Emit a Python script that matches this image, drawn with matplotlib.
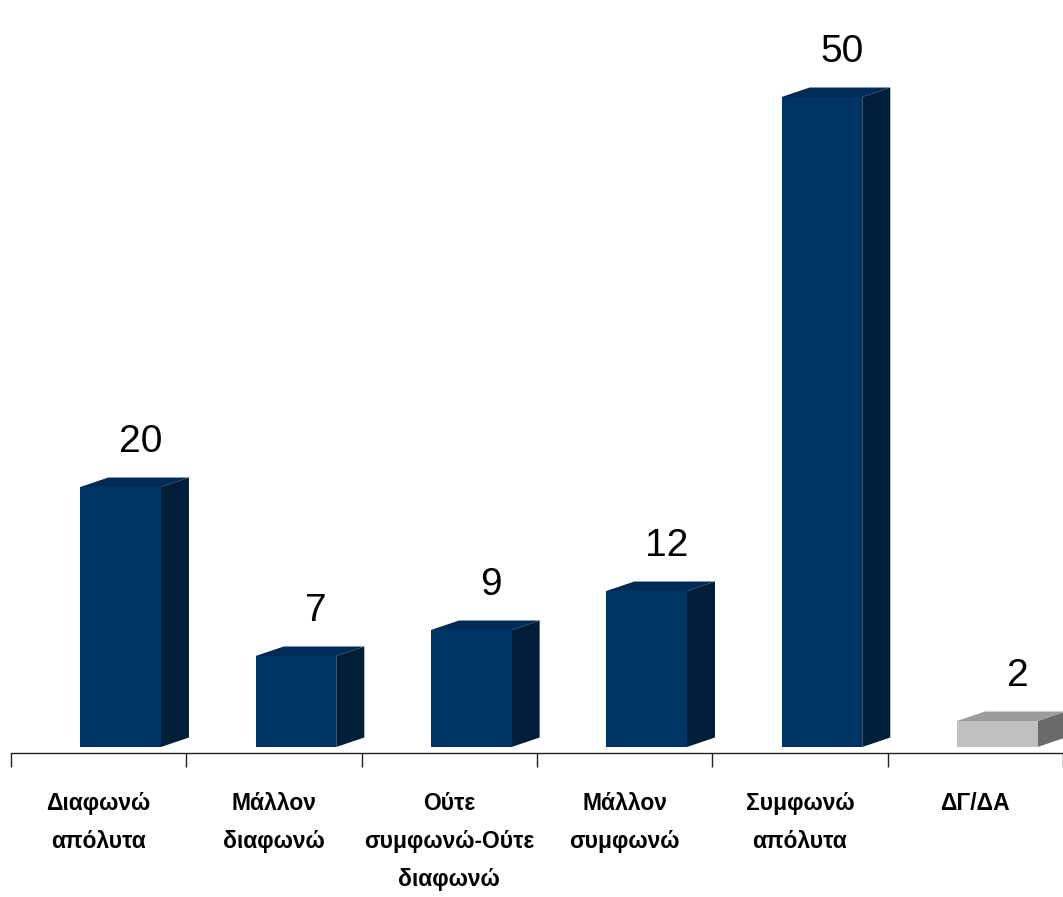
import numpy as np
import matplotlib
matplotlib.use('Agg')
import matplotlib.pyplot as plt
from matplotlib import font_manager

# chart data
categories = ['Διαφωνώ\nαπόλυτα', 'Μάλλον\nδιαφωνώ', 'Ούτε\nσυμφωνώ-Ούτε\nδιαφωνώ',
              'Μάλλον\nσυμφωνώ', 'Συμφωνώ\nαπόλυτα', 'ΔΓ/ΔΑ']
values = [20, 7, 9, 12, 50, 2]
is_dk = [False, False, False, False, False, True]

# colours: front, top, side
navy = ('#003366', '#002b57', '#001e38')
grey = ('#c0c0c0', '#9c9c9c', '#6a6a6a')

# narrow face for the numbers if it is there
names = {f.name for f in font_manager.fontManager.ttflist}
num_font = 'Liberation Sans Narrow' if 'Liberation Sans Narrow' in names else 'Liberation Sans'

fig = plt.figure(figsize=(10.63, 8.97), dpi=100)
ax = fig.add_axes([11/1063, 144/897, 1052/1063, 753/897])

x = np.arange(len(values))
width = 0.46
shift = 0.125      # front face sits right of category centre
dx, dy = 0.16, 0.73  # fake 3d depth

for xi, v, dk in zip(x, values, is_dk):
    front, top, side = grey if dk else navy
    l = xi + shift - width / 2
    r = xi + shift + width / 2
    ax.bar(xi + shift, v, width=width, color=front, zorder=3)
    # top face
    ax.fill([l, r, r + dx, l + dx], [v, v, v + dy, v + dy], color=top, zorder=3, lw=0)
    # side face
    ax.fill([r, r + dx, r + dx, r], [0, dy, v + dy, v], color=side, zorder=2, lw=0)
    # value label
    ax.text(xi + shift + 0.115, v + dy + 2.0, str(v), ha='center', va='baseline',
            fontsize=30 if num_font != 'Liberation Sans' else 28,
            family=num_font, color='black')

ax.set_xlim(-0.5, 5.5)
ax.set_ylim(-6/13, 747/13)

for s in ['top', 'right', 'left']:
    ax.spines[s].set_visible(False)
ax.spines['bottom'].set_color('#222222')
ax.spines['bottom'].set_linewidth(1.0)
ax.set_yticks([])
ax.set_xticks(np.arange(-0.5, 6, 1.0))
ax.set_xticklabels([])
ax.tick_params(axis='x', direction='out', length=10, width=1, color='#222222')

for xi, lab in zip(x, categories):
    ax.annotate(lab, xy=(xi, 0), xycoords=('data', 'axes fraction'),
                xytext=(0, -28), textcoords='offset points',
                ha='center', va='top', fontsize=16.5, fontweight='bold',
                family='Liberation Sans', linespacing=1.85, annotation_clip=False)

fig.savefig('out.png', dpi=100)
